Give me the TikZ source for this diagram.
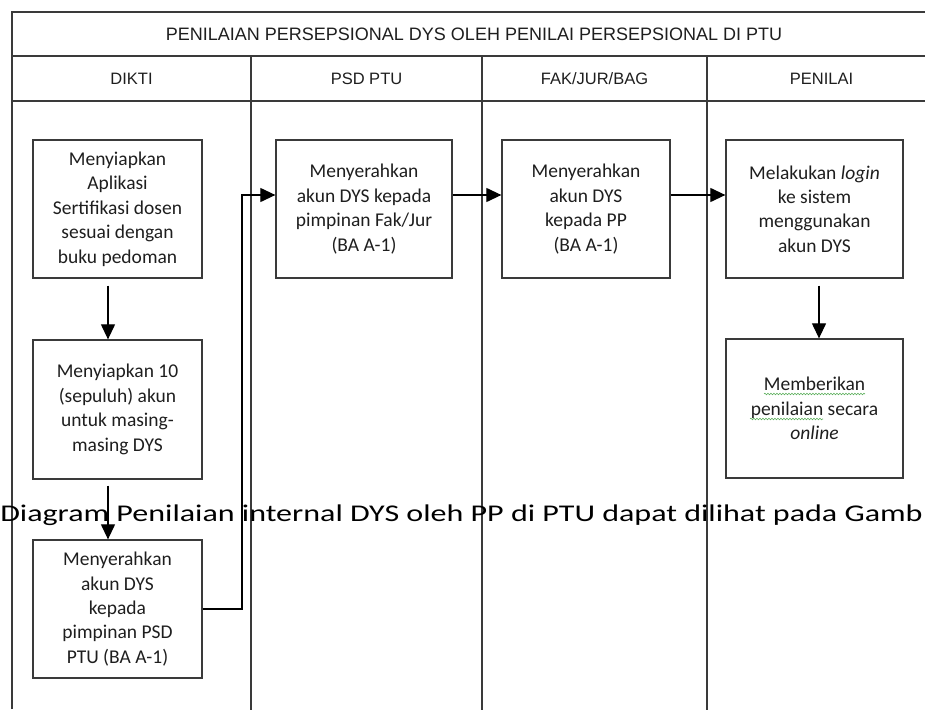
\documentclass[tikz,border=0pt]{standalone}
\usepackage{fontspec}
\setmainfont{Carlito}
\newfontfamily\arialf{Liberation Sans}
\usetikzlibrary{arrows.meta,decorations.pathmorphing}
\definecolor{linec}{HTML}{3A3A3A}
\definecolor{txtc}{HTML}{1E1E1E}
\definecolor{squigc}{HTML}{5BAE5B}
\tikzset{
  frame/.style={draw=linec, line width=1.3pt},
  headtxt/.style={font=\arialf\fontsize{16.5}{19}\selectfont, text=txtc, inner sep=0pt},
  procbox/.style={draw=linec, line width=1.3pt, align=center, inner sep=0pt,
    font=\fontsize{19.5}{24.4}\selectfont, text=txtc},
  conn/.style={draw=black, line width=1.2pt, -{Triangle[length=15pt,width=14pt]}},
  squig/.style={draw=squigc, line width=0.6pt, decorate,
    decoration={snake, amplitude=0.8pt, segment length=3pt}},
}
\begin{document}
\begin{tikzpicture}[x=1pt,y=-1pt]
\useasboundingbox (0,0) rectangle (925,709);
\clip (0,0) rectangle (925,709);
% table frame
\draw[frame] (12,709) -- (12,12) -- (930,12);
\draw[frame] (12,56) -- (930,56);
\draw[frame] (12,101) -- (930,101);
\draw[frame] (251,56) -- (251,712);
\draw[frame] (482,56) -- (482,712);
\draw[frame] (707,56) -- (707,712);
% titles
\node[headtxt, font=\arialf\fontsize{18}{21}\selectfont] (title) at (474,34) {PENILAIAN PERSEPSIONAL DYS OLEH PENILAI PERSEPSIONAL DI PTU};
\node[headtxt] (h1) at (131.5,78.5) {DIKTI};
\node[headtxt] (h2) at (366.5,78.5) {PSD PTU};
\node[headtxt] (h3) at (594.5,78.5) {FAK/JUR/BAG};
\node[headtxt] (h4) at (821.5,78.5) {PENILAI};
% boxes
\node[procbox, minimum width=169pt, minimum height=138pt] (b1) at (117.5,209)
  {Menyiapkan\\Aplikasi\\Sertifikasi dosen\\sesuai dengan\\buku pedoman};
\node[procbox, minimum width=169pt, minimum height=139pt] (b6) at (117.5,409.5)
  {Menyiapkan 10\\(sepuluh) akun\\untuk masing-\\masing DYS};
\node[procbox, minimum width=169pt, minimum height=138pt] (b7) at (117.5,609)
  {Menyerahkan\\akun DYS\\kepada\\pimpinan PSD\\PTU (BA A-1)};
\node[procbox, minimum width=176pt, minimum height=138pt] (b2) at (364,209)
  {Menyerahkan\\akun DYS kepada\\pimpinan Fak/Jur\\(BA A-1)};
\node[procbox, minimum width=168pt, minimum height=138pt] (b3) at (586,209)
  {Menyerahkan\\akun DYS\\kepada PP\\(BA A-1)};
\node[procbox, minimum width=177pt, minimum height=138pt] (b4) at (814.5,209)
  {Melakukan \textit{login}\\ke sistem\\menggunakan\\akun DYS};
\node[procbox, minimum width=177pt, minimum height=139pt] (b5) at (814.5,408.5)
  {Memberikan\\penilaian secara\\\textit{online}};
% spell-check squiggles
\coordinate (s1a) at (764,394);
\coordinate (s1b) at (865,394);
\coordinate (s2a) at (750,419);
\coordinate (s2b) at (823,419);
\draw[squig] (s1a) -- (s1b);
\draw[squig] (s2a) -- (s2b);
% connectors
\coordinate (ay) at (0,195);
\coordinate (turn) at (242,0);
\coordinate (ax1) at (108,0);
\coordinate (ax2) at (819,0);
\draw[conn] (b7.east) -| (turn |- ay) -- (b2.west |- ay);
\draw[conn] (b2.east |- ay) -- (b3.west |- ay);
\draw[conn] (b3.east |- ay) -- (b4.west |- ay);
\draw[conn, shorten <=7pt] (b1.south -| ax1) -- (b6.north -| ax1);
\draw[conn, shorten <=6pt] (b6.south -| ax1) -- (b7.north -| ax1);
\draw[conn, shorten <=7pt] (b4.south -| ax2) -- (b5.north -| ax2);
% overlaid document text
\node[anchor=base west, inner sep=0pt, xscale=1.335, text=black,
  font=\fontsize{24}{29}\selectfont] (overlay) at (0,521)
  {Diagram Penilaian internal DYS oleh PP di PTU dapat dilihat pada Gamb};
\end{tikzpicture}
\end{document}
